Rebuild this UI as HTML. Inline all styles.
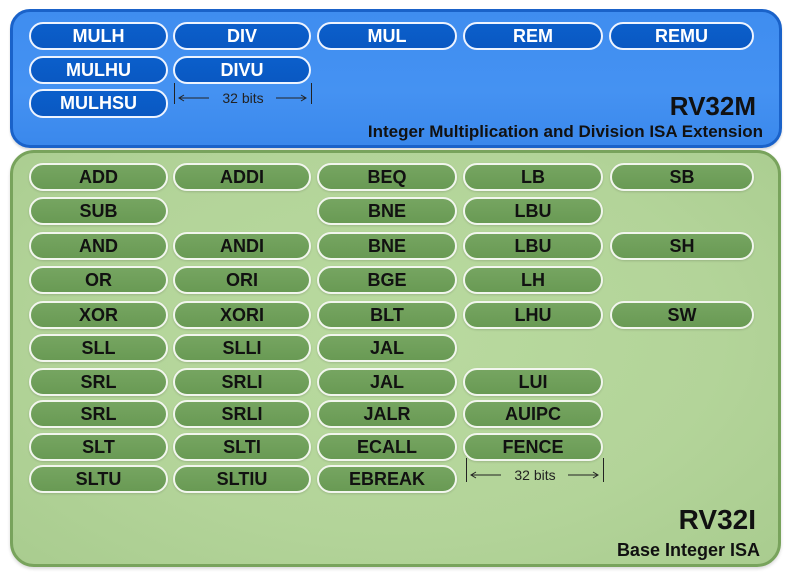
<!DOCTYPE html>
<html>
<head>
<meta charset="utf-8">
<style>
  html, body { margin:0; padding:0; background:#ffffff; }
  body { width:793px; height:579px; position:relative; overflow:hidden; font-family:"Liberation Sans", Arial, sans-serif; }
  .box { position:absolute; box-sizing:border-box; }
  #blue { left:10px; top:9px; width:772px; height:139px; border:3px solid #1a62c9; border-radius:20px;
          background: linear-gradient(180deg, #3f8df0 0%, #4592f2 60%, #3a88ec 100%); box-shadow: 0 2px 2px rgba(0,0,0,0.15); }
  #green { left:10px; top:150px; width:771px; height:417px; border:3px solid #78a35c; border-radius:24px;
          background: radial-gradient(ellipse at 50% 45%, #b9da9f 0%, #b3d499 60%, #a9cc8f 100%); box-shadow: 0 2px 3px rgba(0,0,0,0.15); }
  .pill { position:absolute; box-sizing:border-box; height:28px; border-radius:14px; border:2px solid #f2f6ee;
          text-align:center; font-weight:bold; font-size:18px; line-height:25px; }
  .b { background: linear-gradient(180deg, #0b5fcb 0%, #0a58c2 100%); color:#ffffff; border-color:#eef4ff; }
  .g { background: linear-gradient(180deg, #76a561 0%, #699a54 100%); color:#111; box-shadow: 0 1px 2px rgba(0,0,0,0.15); }
  .t { position:absolute; font-weight:bold; color:#111; white-space:nowrap; }
  .dim { position:absolute; font-size:14px; color:#222; }
  .vl { position:absolute; width:1px; background:#222; }
</style>
</head>
<body>
<div id="blue" class="box"></div>
<div id="green" class="box"></div>

<!-- RV32M pills -->
<div class="pill b" style="left:29px;top:22px;width:139px;">MULH</div>
<div class="pill b" style="left:173px;top:22px;width:138px;">DIV</div>
<div class="pill b" style="left:317px;top:22px;width:140px;">MUL</div>
<div class="pill b" style="left:463px;top:22px;width:140px;">REM</div>
<div class="pill b" style="left:609px;top:22px;width:145px;">REMU</div>
<div class="pill b" style="left:29px;top:56px;width:139px;">MULHU</div>
<div class="pill b" style="left:173px;top:56px;width:138px;">DIVU</div>
<div class="pill b" style="left:29px;top:89px;width:139px;height:29px;">MULHSU</div>

<!-- 32 bits blue -->
<div class="vl" style="left:174px;top:83px;height:21px;"></div>
<div class="vl" style="left:311px;top:83px;height:21px;"></div>
<svg style="position:absolute;left:0;top:0;" width="793" height="579">
  <g stroke="#222" stroke-width="1" fill="none">
    <line x1="179" y1="98" x2="209" y2="98"/>
    <polyline points="184,95 179,98 184,101"/>
    <line x1="276" y1="98" x2="306" y2="98"/>
    <polyline points="301,95 306,98 301,101"/>
    <line x1="471" y1="475" x2="501" y2="475"/>
    <polyline points="476,472 471,475 476,478"/>
    <line x1="568" y1="475" x2="598" y2="475"/>
    <polyline points="593,472 598,475 593,478"/>
  </g>
</svg>
<div class="dim" style="left:212px;top:90px;width:62px;text-align:center;">32 bits</div>

<div class="t" style="right:37px;top:91px;font-size:26px;">RV32M</div>
<div class="t" style="right:30px;top:122px;font-size:17px;">Integer Multiplication and Division ISA Extension</div>

<!-- RV32I pills -->
<!-- row 0 -->
<div class="pill g" style="left:29px;top:163px;width:139px;">ADD</div>
<div class="pill g" style="left:173px;top:163px;width:138px;">ADDI</div>
<div class="pill g" style="left:317px;top:163px;width:140px;">BEQ</div>
<div class="pill g" style="left:463px;top:163px;width:140px;">LB</div>
<div class="pill g" style="left:610px;top:163px;width:144px;">SB</div>
<!-- row 1 -->
<div class="pill g" style="left:29px;top:197px;width:139px;">SUB</div>
<div class="pill g" style="left:317px;top:197px;width:140px;">BNE</div>
<div class="pill g" style="left:463px;top:197px;width:140px;">LBU</div>
<!-- row 2 -->
<div class="pill g" style="left:29px;top:232px;width:139px;">AND</div>
<div class="pill g" style="left:173px;top:232px;width:138px;">ANDI</div>
<div class="pill g" style="left:317px;top:232px;width:140px;">BNE</div>
<div class="pill g" style="left:463px;top:232px;width:140px;">LBU</div>
<div class="pill g" style="left:610px;top:232px;width:144px;">SH</div>
<!-- row 3 -->
<div class="pill g" style="left:29px;top:266px;width:139px;">OR</div>
<div class="pill g" style="left:173px;top:266px;width:138px;">ORI</div>
<div class="pill g" style="left:317px;top:266px;width:140px;">BGE</div>
<div class="pill g" style="left:463px;top:266px;width:140px;">LH</div>
<!-- row 4 -->
<div class="pill g" style="left:29px;top:301px;width:139px;">XOR</div>
<div class="pill g" style="left:173px;top:301px;width:138px;">XORI</div>
<div class="pill g" style="left:317px;top:301px;width:140px;">BLT</div>
<div class="pill g" style="left:463px;top:301px;width:140px;">LHU</div>
<div class="pill g" style="left:610px;top:301px;width:144px;">SW</div>
<!-- row 5 -->
<div class="pill g" style="left:29px;top:334px;width:139px;">SLL</div>
<div class="pill g" style="left:173px;top:334px;width:138px;">SLLI</div>
<div class="pill g" style="left:317px;top:334px;width:140px;">JAL</div>
<!-- row 6 -->
<div class="pill g" style="left:29px;top:368px;width:139px;">SRL</div>
<div class="pill g" style="left:173px;top:368px;width:138px;">SRLI</div>
<div class="pill g" style="left:317px;top:368px;width:140px;">JAL</div>
<div class="pill g" style="left:463px;top:368px;width:140px;">LUI</div>
<!-- row 7 -->
<div class="pill g" style="left:29px;top:400px;width:139px;">SRL</div>
<div class="pill g" style="left:173px;top:400px;width:138px;">SRLI</div>
<div class="pill g" style="left:317px;top:400px;width:140px;">JALR</div>
<div class="pill g" style="left:463px;top:400px;width:140px;">AUIPC</div>
<!-- row 8 -->
<div class="pill g" style="left:29px;top:433px;width:139px;">SLT</div>
<div class="pill g" style="left:173px;top:433px;width:138px;">SLTI</div>
<div class="pill g" style="left:317px;top:433px;width:140px;">ECALL</div>
<div class="pill g" style="left:463px;top:433px;width:140px;">FENCE</div>
<!-- row 9 -->
<div class="pill g" style="left:29px;top:465px;width:139px;">SLTU</div>
<div class="pill g" style="left:173px;top:465px;width:138px;">SLTIU</div>
<div class="pill g" style="left:317px;top:465px;width:140px;">EBREAK</div>

<!-- 32 bits green -->
<div class="vl" style="left:466px;top:458px;height:24px;"></div>
<div class="vl" style="left:603px;top:458px;height:24px;"></div>
<div class="dim" style="left:504px;top:467px;width:62px;text-align:center;">32 bits</div>

<div class="t" style="right:37px;top:504px;font-size:28px;">RV32I</div>
<div class="t" style="right:33px;top:540px;font-size:18px;">Base Integer ISA</div>
</body>
</html>
